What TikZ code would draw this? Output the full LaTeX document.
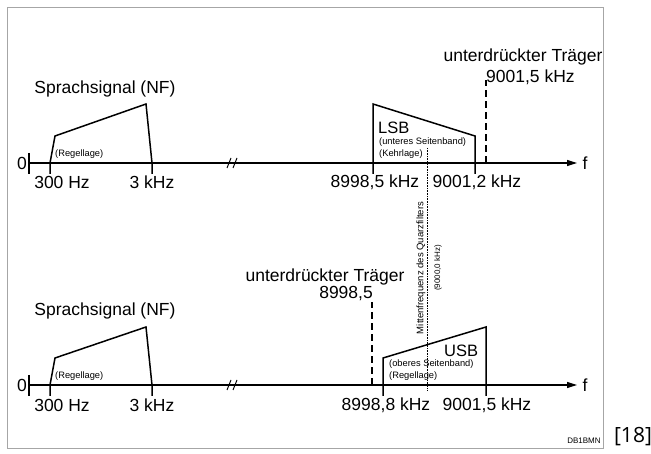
\documentclass[tikz,border=0pt]{standalone}
\usepackage{fontspec}
\setmainfont{Liberation Sans}
\newfontfamily\reffont{Open Sans}
\usetikzlibrary{positioning, arrows.meta}

\begin{document}
\begin{tikzpicture}[
    x=1pt, y=-1pt,
    big/.style={inner sep=0pt, font=\fontsize{17.5}{20}\selectfont},
    small/.style={inner sep=0pt, font=\fontsize{9.3}{11}\selectfont},
    axis/.style={line width=1.2pt, -{Triangle[length=10pt,width=6pt]}},
    band/.style={line width=1.5pt, line join=miter},
    carrier/.style={line width=1.5pt, dash pattern=on 7pt off 4pt},
    tick/.style={line width=1.2pt},
    brk/.style={line width=1pt}
]
\useasboundingbox (0,0) rectangle (651,454);
\draw[gray!70, line width=0.8pt] (7,7) rectangle (603,448);

% upper spectrum: LSB
\coordinate (z1) at (29,163);
\coordinate (e1) at (577,163);
\draw[axis] (z1) -- (e1);
\draw[tick] (29,153) -- (29,174);
\draw[brk] (227,168) -- (231,158) (233,168) -- (237,158);

\draw[band] (50,174) -- (50,163) -- (55,136) -- (146,104) -- (152,163) -- (152,174);
\draw[band] (373,174) -- (373,104) -- (475,136) -- (475,174);
\coordinate (c1) at (486,163);
\coordinate (c1top) at (486,80);
\draw[carrier] (c1) -- (c1top);

\node[big, anchor=east] (null1) at (27,163) {0};
\node[big] (nf1) at (105,89) {Sprachsignal (NF)};
\node[small, anchor=west] (rl1) at (55,154) {(Regellage)};
\node[big] (hz1) at (62,182) {300 Hz};
\node[big] (khz1) at (152,182) {3 kHz};
\node[big] (lo1) at (375,182) {8998,5 kHz};
\node[big] (hi1) at (477,182) {9001,2 kHz};
\node[big] (tr1) at (523,57) {unterdrückter Träger};
\node[big, anchor=west] (ct1) at (486,77) {9001,5 kHz};
\node[big, anchor=west, font=\fontsize{16.5}{19}\selectfont] (lsb) at (378,128) {LSB};
\node[small, anchor=west] (sb1) at (379,142.5) {(unteres Seitenband)};
\node[small, anchor=west] (kl) at (379,154.5) {(Kehrlage)};
\node[big] (f1) at (585,163) {f};

% centre of the crystal filter
\coordinate (m1) at (427,148);
\coordinate (m2) at (427,390);
\draw[densely dotted, line width=0.6pt] (m1) -- (m2);
\node[small, rotate=90, font=\fontsize{9.5}{11}\selectfont] (mq) at (421,268) {Mittenfrequenz des Quarzfilters};
\node[small, rotate=90, font=\fontsize{8}{10}\selectfont] (mf) at (438,268) {(9000,0 kHz)};

% lower spectrum: USB
\coordinate (z2) at (29,385);
\coordinate (e2) at (577,385);
\draw[axis] (z2) -- (e2);
\draw[tick] (29,375) -- (29,396);
\draw[brk] (227,390) -- (231,380) (233,390) -- (237,380);

\draw[band] (50,396) -- (50,385) -- (55,358) -- (146,327) -- (152,385) -- (152,396);
\draw[band] (383,396) -- (383,358) -- (486,327) -- (486,396);
\coordinate (c2) at (372,385);
\coordinate (c2top) at (372,302);
\draw[carrier] (c2) -- (c2top);

\node[big, anchor=east] (null2) at (27,385) {0};
\node[big] (nf2) at (105,311) {Sprachsignal (NF)};
\node[small, anchor=west] (rl2) at (55,376) {(Regellage)};
\node[big] (hz2) at (62,405) {300 Hz};
\node[big] (khz2) at (152,405) {3 kHz};
\node[big] (lo2) at (386,405) {8998,8 kHz};
\node[big] (hi2) at (487,405) {9001,5 kHz};
\node[big] (tr2) at (325,277) {unterdrückter Träger};
\node[big, anchor=east] (ct2) at (373,294) {8998,5};
\node[big, anchor=west, font=\fontsize{16.5}{19}\selectfont] (usb) at (444,351) {USB};
\node[small, anchor=west] (sb2) at (389,364) {(oberes Seitenband)};
\node[small, anchor=west] (rl3) at (389,376) {(Regellage)};
\node[big] (f2) at (585,385) {f};

\node[inner sep=0pt, font=\fontsize{8}{9}\selectfont] (sig) at (584,441) {DB1BMN};
\node[inner sep=0pt, font=\reffont\fontsize{21}{23}\selectfont] (ref) at (633,437) {[18]};
\end{tikzpicture}
\end{document}
